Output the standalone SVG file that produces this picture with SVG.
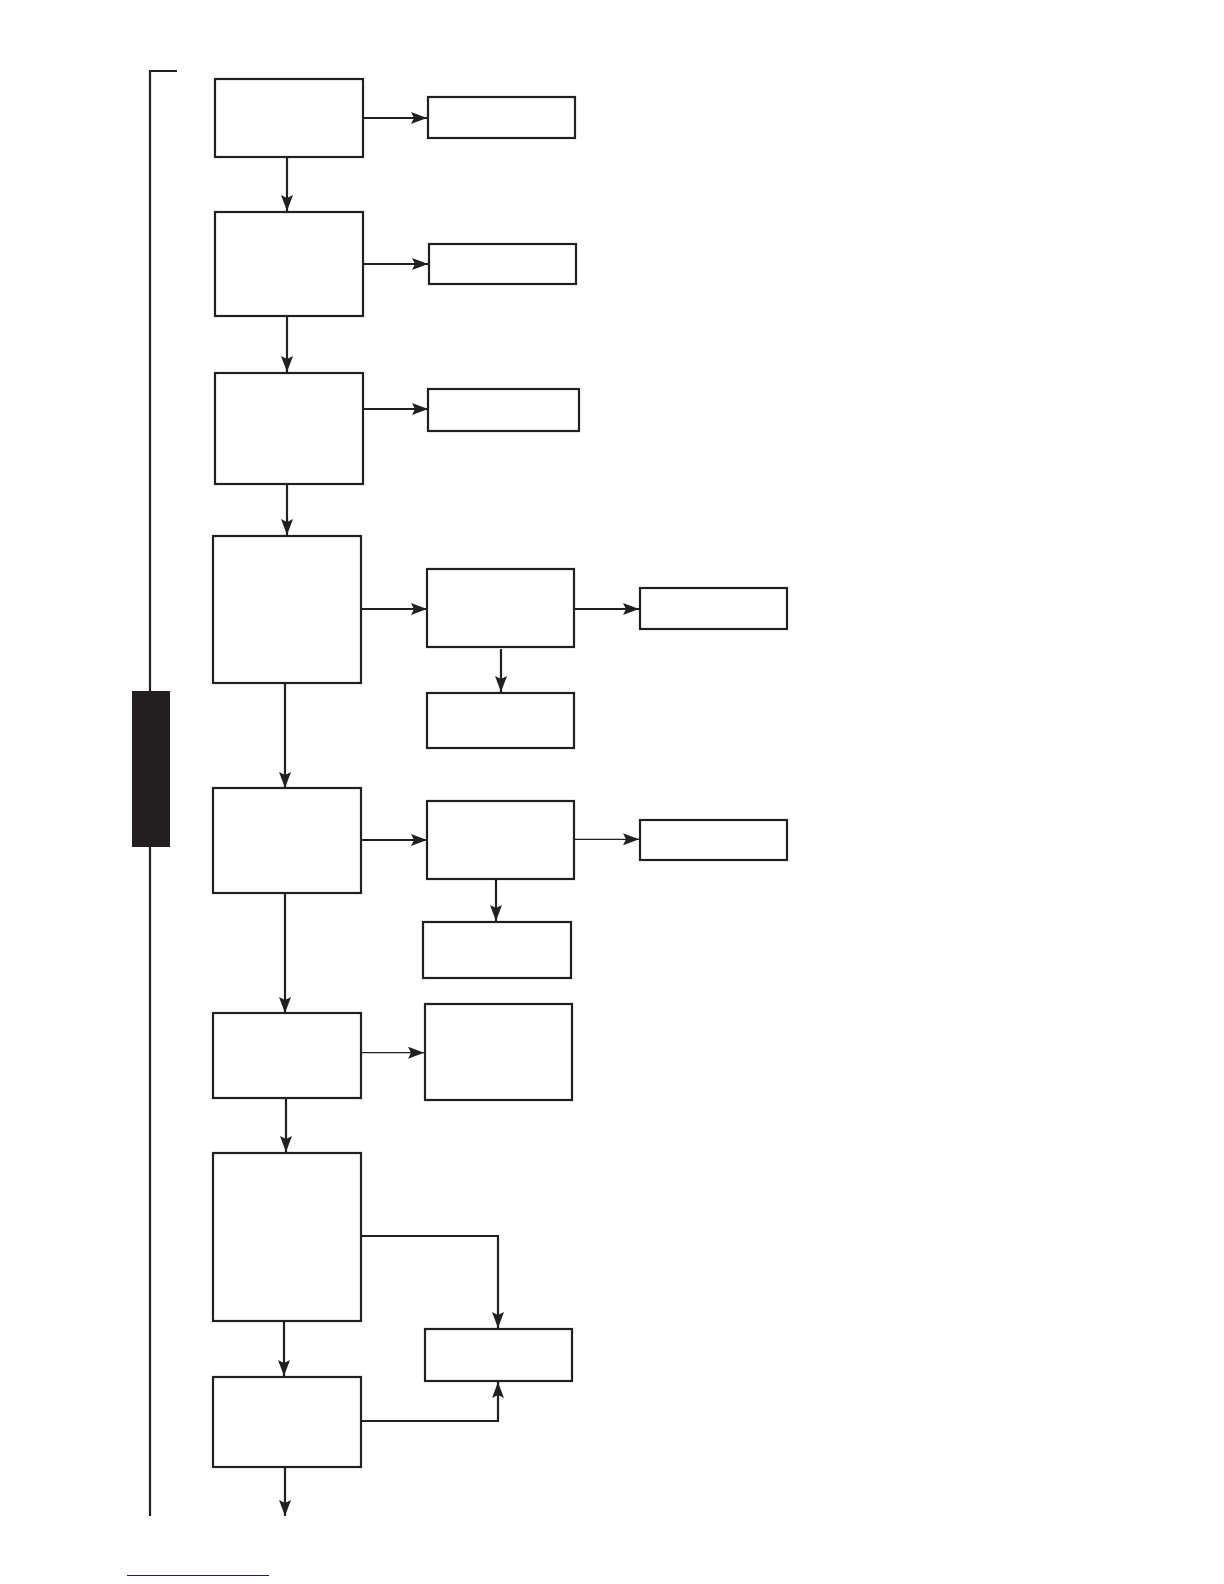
<svg xmlns="http://www.w3.org/2000/svg" width="1224" height="1584" viewBox="0 0 1224 1584">
<style>
.n{fill:#ffffff;stroke:#231f20;stroke-width:2.2}
.c{fill:none;stroke:#231f20;stroke-width:2.2}
.t{fill:none;stroke:#231f20;stroke-width:1.2}
</style>
<defs>
<marker id="ah" markerUnits="userSpaceOnUse" markerWidth="18" markerHeight="12" refX="16" refY="6" orient="auto">
<path d="M0,0 L16,6 L0,12 L3,6 Z" fill="#231f20"/>
</marker>
</defs>
<rect width="1224" height="1584" fill="#ffffff"/>
<g id="bracket">
<path class="c" d="M177,71 H150 V1516"/>
<rect x="132" y="691" width="38" height="156" fill="#231f20"/>
</g>
<g id="connectors">
<line class="c" x1="363" y1="118" x2="427" y2="118" marker-end="url(#ah)"/>
<line class="c" x1="287" y1="157" x2="287" y2="211" marker-end="url(#ah)"/>
<line class="c" x1="363" y1="264" x2="428" y2="264" marker-end="url(#ah)"/>
<line class="c" x1="287" y1="316" x2="287" y2="372" marker-end="url(#ah)"/>
<line class="c" x1="363" y1="409" x2="428" y2="409" marker-end="url(#ah)"/>
<line class="c" x1="287" y1="484" x2="287" y2="535" marker-end="url(#ah)"/>
<line class="c" x1="361" y1="609" x2="427" y2="609" marker-end="url(#ah)"/>
<line class="c" x1="574" y1="609" x2="639" y2="609" marker-end="url(#ah)"/>
<line class="c" x1="501" y1="649" x2="501" y2="692" marker-end="url(#ah)"/>
<line class="c" x1="285" y1="683" x2="285" y2="788" marker-end="url(#ah)"/>
<line class="c" x1="361" y1="840" x2="427" y2="840" marker-end="url(#ah)"/>
<line class="t" x1="574" y1="839.3" x2="639" y2="839.3" marker-end="url(#ah)"/>
<line class="c" x1="496" y1="879" x2="496" y2="921" marker-end="url(#ah)"/>
<line class="c" x1="285" y1="893" x2="285" y2="1013" marker-end="url(#ah)"/>
<line class="t" x1="361" y1="1052.7" x2="424" y2="1052.7" marker-end="url(#ah)"/>
<line class="c" x1="286" y1="1098" x2="286" y2="1152" marker-end="url(#ah)"/>
<path class="c" d="M361,1236 H498 V1328" marker-end="url(#ah)"/>
<line class="c" x1="284" y1="1321" x2="284" y2="1376" marker-end="url(#ah)"/>
<path class="c" d="M361,1421 H498 V1382" marker-end="url(#ah)"/>
<line class="c" x1="285" y1="1467" x2="285" y2="1516" marker-end="url(#ah)"/>
</g>
<g id="n1"><rect class="n" x="215" y="79" width="148" height="78"/></g>
<g id="n1r"><rect class="n" x="428" y="97" width="147" height="41"/></g>
<g id="n2"><rect class="n" x="215" y="212" width="148" height="104"/></g>
<g id="n2r"><rect class="n" x="429" y="244" width="147" height="40"/></g>
<g id="n3"><rect class="n" x="215" y="373" width="148" height="111"/></g>
<g id="n3r"><rect class="n" x="428" y="389" width="151" height="42"/></g>
<g id="n4"><rect class="n" x="213" y="536" width="148" height="147"/></g>
<g id="n4a"><rect class="n" x="427" y="569" width="147" height="78"/></g>
<g id="n4b"><rect class="n" x="640" y="588" width="147" height="41"/></g>
<g id="n4c"><rect class="n" x="427" y="693" width="147" height="55"/></g>
<g id="n5"><rect class="n" x="213" y="788" width="148" height="105"/></g>
<g id="n5a"><rect class="n" x="427" y="801" width="147" height="78"/></g>
<g id="n5b"><rect class="n" x="640" y="820" width="147" height="40"/></g>
<g id="n5c"><rect class="n" x="423" y="922" width="148" height="56"/></g>
<g id="n6"><rect class="n" x="213" y="1013" width="148" height="85"/></g>
<g id="n6a"><rect class="n" x="425" y="1004" width="147" height="96"/></g>
<g id="n7"><rect class="n" x="213" y="1153" width="148" height="168"/></g>
<g id="n8"><rect class="n" x="425" y="1329" width="147" height="52"/></g>
<g id="n9"><rect class="n" x="213" y="1377" width="148" height="90"/></g>
<line x1="127" y1="1575.5" x2="269" y2="1575.5" stroke="#1a1a80" stroke-width="1"/>
</svg>
